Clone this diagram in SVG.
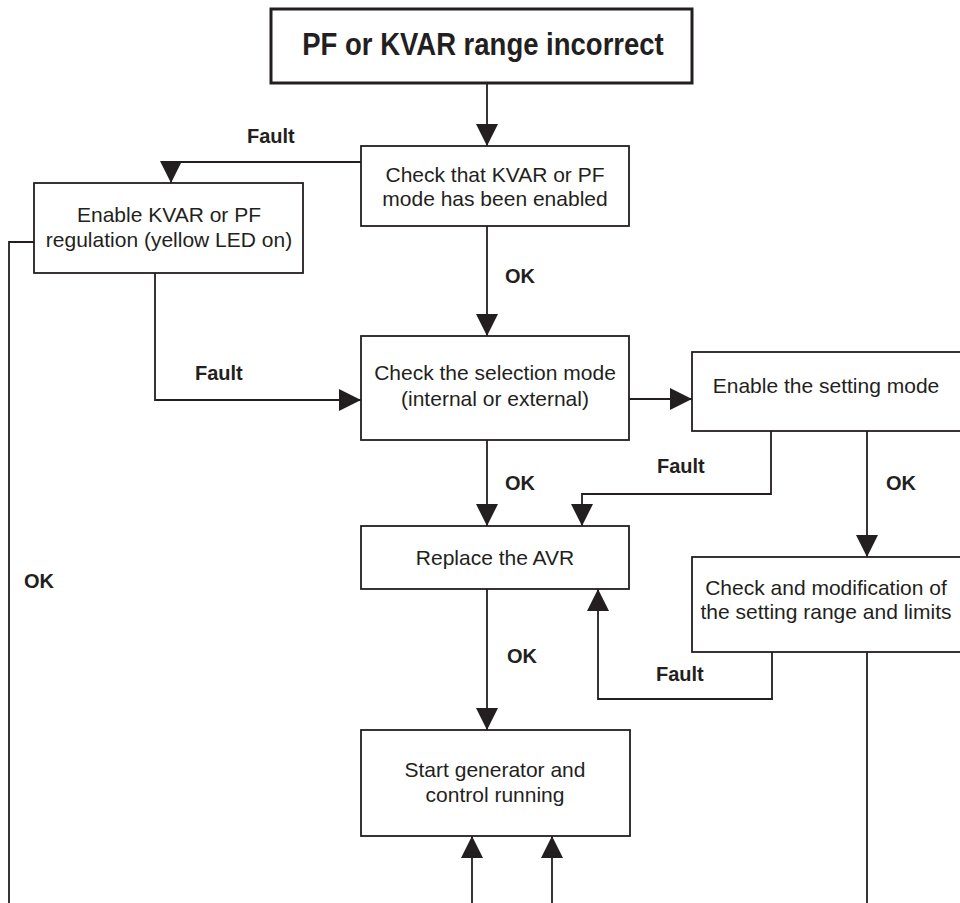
<svg xmlns="http://www.w3.org/2000/svg" width="960" height="903" viewBox="0 0 960 903">
<style>
.box{fill:#fff;stroke:#231f20;stroke-width:1.8}
.title{fill:#fff;stroke:#231f20;stroke-width:3}
.t{font-family:"Liberation Sans",Arial,sans-serif;font-size:21px;fill:#231f20;text-anchor:middle}
.tt{font-family:"Liberation Sans",Arial,sans-serif;font-size:27.5px;font-weight:bold;fill:#231f20;text-anchor:middle}
.l{font-family:"Liberation Sans",Arial,sans-serif;font-size:20px;font-weight:bold;fill:#231f20}
.c{fill:none;stroke:#231f20;stroke-width:1.8}
</style>
<defs>
<marker id="ah" viewBox="0 0 22 22" refX="22" refY="11" markerWidth="22" markerHeight="22" markerUnits="userSpaceOnUse" orient="auto">
<path d="M0,0 L22,11 L0,22 z" fill="#231f20"/>
</marker>
</defs>
<g id="connectors">
<path class="c" d="M487,84 V146" marker-end="url(#ah)"/>
<path class="c" d="M361,162 H171 V183" marker-end="url(#ah)"/>
<path class="c" d="M35,242 H9 V903"/>
<path class="c" d="M155,273 V400 H361" marker-end="url(#ah)"/>
<path class="c" d="M487,226 V336" marker-end="url(#ah)"/>
<path class="c" d="M629,399 H692" marker-end="url(#ah)"/>
<path class="c" d="M771,431 V494 H582 V526" marker-end="url(#ah)"/>
<path class="c" d="M487,440 V526" marker-end="url(#ah)"/>
<path class="c" d="M867,431 V557" marker-end="url(#ah)"/>
<path class="c" d="M772,652 V699 H598 V589" marker-end="url(#ah)"/>
<path class="c" d="M487,589 V730" marker-end="url(#ah)"/>
<path class="c" d="M472,903 V836" marker-end="url(#ah)"/>
<path class="c" d="M552,903 V836" marker-end="url(#ah)"/>
<path class="c" d="M867,652 V903"/>
<text class="l" x="247" y="143">Fault</text>
<text class="l" x="505" y="283">OK</text>
<text class="l" x="195" y="380">Fault</text>
<text class="l" x="657" y="473">Fault</text>
<text class="l" x="505" y="490">OK</text>
<text class="l" x="886" y="490">OK</text>
<text class="l" x="24" y="588">OK</text>
<text class="l" x="507" y="663">OK</text>
<text class="l" x="656" y="681">Fault</text>
</g>
<g id="n-title">
<rect class="title" x="271" y="9" width="421" height="74"/>
<text class="tt" transform="translate(483,55) scale(1,1.15)">PF or KVAR range incorrect</text>
</g>
<g id="n-check-mode">
<rect class="box" x="361" y="146" width="268" height="80"/>
<text class="t" x="495" y="182">Check that KVAR or PF</text>
<text class="t" x="495" y="206">mode has been enabled</text>
</g>
<g id="n-enable-reg">
<rect class="box" x="34" y="183" width="269" height="90"/>
<text class="t" x="169" y="222">Enable KVAR or PF</text>
<text class="t" x="169" y="247">regulation (yellow LED on)</text>
</g>
<g id="n-selection">
<rect class="box" x="361" y="336" width="268" height="104"/>
<text class="t" x="495" y="380">Check the selection mode</text>
<text class="t" x="495" y="406">(internal or external)</text>
</g>
<g id="n-setting-mode">
<rect class="box" x="692" y="352" width="280" height="79"/>
<text class="t" x="826" y="393">Enable the setting mode</text>
</g>
<g id="n-replace">
<rect class="box" x="361" y="526" width="268" height="63"/>
<text class="t" x="495" y="565">Replace the AVR</text>
</g>
<g id="n-modify">
<rect class="box" x="692" y="557" width="280" height="95"/>
<text class="t" x="826" y="595">Check and modification of</text>
<text class="t" x="826" y="619">the setting range and limits</text>
</g>
<g id="n-start">
<rect class="box" x="361" y="730" width="269" height="106"/>
<text class="t" x="495" y="777">Start generator and</text>
<text class="t" x="495" y="802">control running</text>
</g>
</svg>
